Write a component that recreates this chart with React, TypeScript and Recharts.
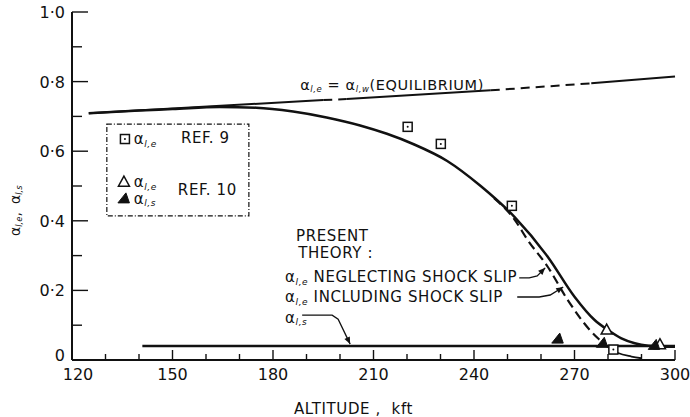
import React from 'react';
import {
  ComposedChart, Line, Scatter, XAxis, YAxis, ReferenceArea, ReferenceDot, Label,
} from 'recharts';

const FONT = '"DejaVu Sans", Verdana, sans-serif';
const INK = '#111';

// ---- axes ----
const xTickValues = [120, 130, 140, 150, 160, 170, 180, 190, 200, 210, 220, 230, 240, 250, 260, 270, 280, 290, 300];
const xMajorTicks = [120, 150, 180, 210, 240, 270, 300];
const yTickValues = [0, 0.1, 0.2, 0.3, 0.4, 0.5, 0.6, 0.7, 0.8, 0.9, 1.0];
const yMajorTicks = [0, 0.2, 0.4, 0.6, 0.8, 1.0];
const yMajorLabels = ['0', '0·2', '0·4', '0·6', '0·8', '1·0'];

// ---- equilibrium line (segments alternate solid / dashed) ----
const eqAlt = [125, 195, 202, 245, 275, 300];
const eqVal = [0.709, 0.747, 0.750, 0.775, 0.795, 0.815];
const eqDashed = [false, true, false, true, false];

// ---- present theory: alpha_l,e including shock slip (solid) ----
const inclAlt = [125, 140, 150, 164, 175, 186, 196, 206, 214, 222, 232, 242, 252, 262, 270, 276, 280, 284, 288, 292, 296, 300];
const inclVal = [0.709, 0.717, 0.721, 0.727, 0.725, 0.714, 0.697, 0.674, 0.650, 0.620, 0.572, 0.500, 0.412, 0.297, 0.182, 0.115, 0.086, 0.062, 0.048, 0.041, 0.039, 0.038];

// ---- present theory: alpha_l,e neglecting shock slip (dashed) ----
const neglAlt = [246, 252, 256, 262, 268, 274.6, 277.6, 279.5];
const neglVal = [0.465, 0.405, 0.345, 0.268, 0.172, 0.086, 0.057, 0.040];
const tailAlt = [279.5, 283, 287, 290];
const tailVal = [0.040, 0.020, 0.010, 0.005];

// ---- present theory: alpha_l,s ----
const sAlt = [141, 300];
const sVal = [0.04, 0.04];

// ---- experimental points ----
const ref9Alt = [220.2, 230.1, 251.3, 281.6];
const ref9Val = [0.670, 0.621, 0.443, 0.030];
const ref10eAlt = [279.6, 295.5];
const ref10eVal = [0.086, 0.044];
const ref10sAlt = [265, 278.3, 293.8];
const ref10sVal = [0.060, 0.048, 0.042];

const pts = (xs: number[], ys: number[]) => xs.map((x, i) => ({ x, y: ys[i] }));

const eqSegments = eqDashed.map((d, i) => ({
  dashed: d,
  data: pts([eqAlt[i], eqAlt[i + 1]], [eqVal[i], eqVal[i + 1]]),
}));

// ---- markers ----
const SquareMark = (p: any) => (
  <g>
    <rect x={p.cx - 4.5} y={p.cy - 4.5} width={9} height={9} fill="#fff" stroke={INK} strokeWidth={1.5} />
    <circle cx={p.cx} cy={p.cy} r={1} fill={INK} />
  </g>
);
const OpenTri = (p: any) => (
  <path d={`M${p.cx},${p.cy - 6} L${p.cx + 5.5},${p.cy + 4} L${p.cx - 5.5},${p.cy + 4} Z`} fill="#fff" stroke={INK} strokeWidth={1.5} />
);
const FilledTri = (p: any) => (
  <path d={`M${p.cx + 2},${p.cy - 6} L${p.cx + 5.5},${p.cy + 4} L${p.cx - 6},${p.cy + 4} Z`} fill={INK} stroke={INK} strokeWidth={1} />
);

// ---- ticks ----
const BottomTick = (p: any) => {
  const v = p.payload.value;
  const major = xMajorTicks.includes(v);
  return (
    <g>
      <line x1={p.x} x2={p.x} y1={p.y} y2={p.y - (major ? 10 : 6)} stroke={INK} strokeWidth={1.4} />
      {major && (
        <text x={p.x + (v === 120 ? 6 : 0)} y={p.y + 20} textAnchor="middle" fontFamily={FONT} fontSize={16} fill={INK}>{v}</text>
      )}
    </g>
  );
};
const TopTick = (p: any) => (
  <line x1={p.x} x2={p.x} y1={p.y} y2={p.y + 6} stroke={INK} strokeWidth={1.3} />
);
const LeftTick = (p: any) => {
  const v = p.payload.value;
  const idx = yMajorTicks.findIndex((t) => Math.abs(t - v) < 1e-9);
  const major = idx >= 0;
  return (
    <g>
      <line x1={p.x} x2={p.x + (major ? 16 : 10)} y1={p.y} y2={p.y} stroke={INK} strokeWidth={1.4} />
      {major && (
        <text x={p.x - 7} y={p.y + (v === 0 ? 1 : 6)} textAnchor="end" fontFamily={FONT} fontSize={16} fill={INK}>{yMajorLabels[idx]}</text>
      )}
    </g>
  );
};
const RightTick = (p: any) => (
  <line x1={p.x} x2={p.x - 10} y1={p.y} y2={p.y} stroke={INK} strokeWidth={1.3} />
);

// ---- text helpers ----
const Alpha = ({ x, y, sub, rest, size = 15, anchor = 'start', spacing = 0.6 }: any) => (
  <text x={x} y={y} fontFamily={FONT} fontSize={size} fill={INK} textAnchor={anchor} dominantBaseline="central" letterSpacing={spacing}>
    <tspan>α</tspan>
    <tspan fontSize={size * 0.6} fontStyle="italic" dy={size * 0.3}>{sub}</tspan>
    {rest !== undefined && <tspan dy={-size * 0.3}>{rest}</tspan>}
  </text>
);

const textDot = (node: (cx: number, cy: number) => React.ReactNode) => (p: any) => <g>{node(p.cx, p.cy)}</g>;

const arrowShape = (rel: number[][]) => (p: any) => {
  const x0 = p.cx, y0 = p.cy;
  const P = rel.map(([dx, dy]) => [x0 + dx, y0 + dy]);
  const d = P.map((q, i) => `${i === 0 ? 'M' : 'L'}${q[0]},${q[1]}`).join(' ');
  const [a, b] = [P[P.length - 2], P[P.length - 1]];
  const ang = Math.atan2(b[1] - a[1], b[0] - a[0]);
  const L = 7, W = 3;
  const bx = b[0] - L * Math.cos(ang), by = b[1] - L * Math.sin(ang);
  const h = `M${b[0]},${b[1]} L${bx - W * Math.sin(ang)},${by + W * Math.cos(ang)} L${bx + W * Math.sin(ang)},${by - W * Math.cos(ang)} Z`;
  return (
    <g>
      <path d={d} fill="none" stroke={INK} strokeWidth={1.3} />
      <path d={h} fill={INK} />
    </g>
  );
};

const plainText = (label: string) => textDot((x, y) => (
  <text x={x} y={y} dominantBaseline="central" fontFamily={FONT} fontSize={15} fill={INK} letterSpacing={0.6}>{label}</text>
));

export default function App() {
  return (
    <div style={{ position: 'absolute', left: 0, top: 0, background: '#fff' }}>
      <ComposedChart width={690} height={417} margin={{ top: 12, right: 15, bottom: 0, left: 0 }}>
        <XAxis
          dataKey="x" type="number" domain={[120, 300]} ticks={xTickValues} interval={0}
          height={57} tickSize={0} tickMargin={0} tick={BottomTick}
          axisLine={{ stroke: INK, strokeWidth: 2 }}
        >
          <Label content={(p: any) => {
            const vb = p.viewBox;
            return (
              <text x={vb.x + vb.width / 2 - 20} y={vb.y + 54} textAnchor="middle" fontFamily={FONT} fontSize={15} fill={INK} letterSpacing={0.6}>
                ALTITUDE ,{'\u00a0\u00a0'}kft
              </text>
            );
          }} />
        </XAxis>
        <XAxis
          xAxisId="top" orientation="top" dataKey="x" type="number" domain={[120, 300]} ticks={xTickValues} interval={0}
          height={0} tickSize={0} tickMargin={0} tick={TopTick} axisLine={{ stroke: INK, strokeWidth: 2 }}
        />
        <YAxis
          type="number" domain={[0, 1]} ticks={yTickValues} interval={0} width={72}
          tickSize={0} tickMargin={0} tick={LeftTick} axisLine={{ stroke: INK, strokeWidth: 2 }}
        >
          <Label content={(p: any) => {
            const vb = p.viewBox;
            const cx = vb.x + 15, cy = vb.y + 198;
            return (
              <g transform={`rotate(-90 ${cx} ${cy})`}>
                <Alpha x={cx - 26} y={cy} sub="l,e" rest=", " size={14} spacing={0} />
                <Alpha x={cx + 6} y={cy} sub="l,s" size={14} spacing={0} />
              </g>
            );
          }} />
        </YAxis>
        <YAxis
          yAxisId="right" orientation="right" type="number" domain={[0, 1]} ticks={yTickValues} interval={0} width={0}
          tickSize={0} tickMargin={0} tick={RightTick} axisLine={{ stroke: INK, strokeWidth: 2 }}
        />

        {eqSegments.map((s, i) => (
          <Line key={'eq' + i} data={s.data} dataKey="y" type="linear" dot={false} stroke={INK}
            strokeWidth={2} strokeDasharray={s.dashed ? '9 6' : undefined} isAnimationActive={false} />
        ))}
        <Line data={pts(inclAlt, inclVal)} dataKey="y" type="monotone" dot={false} stroke={INK} strokeWidth={2.5} isAnimationActive={false} />
        <Line data={pts(neglAlt, neglVal)} dataKey="y" type="monotone" dot={false} stroke={INK} strokeWidth={2.2} strokeDasharray="9 5" isAnimationActive={false} />
        <Line data={pts(tailAlt, tailVal)} dataKey="y" type="monotone" dot={false} stroke={INK} strokeWidth={1.8} isAnimationActive={false} />
        <Line data={pts(sAlt, sVal)} dataKey="y" type="linear" dot={false} stroke={INK} strokeWidth={2.5} isAnimationActive={false} />

        <Scatter data={pts(ref9Alt, ref9Val)} dataKey="y" shape={SquareMark} isAnimationActive={false} />
        <Scatter data={pts(ref10eAlt, ref10eVal)} dataKey="y" shape={OpenTri} isAnimationActive={false} />
        <Scatter data={pts(ref10sAlt, ref10sVal)} dataKey="y" shape={FilledTri} isAnimationActive={false} />

        {/* legend box */}
        <ReferenceArea x1={130.4} x2={172.8} y1={0.414} y2={0.678} fill="none" fillOpacity={0}
          stroke={INK} strokeWidth={1.2} strokeDasharray="5 2 1 2" />
        <ReferenceDot x={135.8} y={0.635} r={0} shape={SquareMark} />
        <ReferenceDot x={138.4} y={0.635} r={0} shape={textDot((x, y) => <Alpha x={x} y={y} sub="l,e" />)} />
        <ReferenceDot x={152.5} y={0.638} r={0} shape={plainText('REF. 9')} />
        <ReferenceDot x={135.5} y={0.511} r={0} shape={OpenTri} />
        <ReferenceDot x={138.4} y={0.511} r={0} shape={textDot((x, y) => <Alpha x={x} y={y} sub="l,e" />)} />
        <ReferenceDot x={135.5} y={0.463} r={0} shape={FilledTri} />
        <ReferenceDot x={138.4} y={0.463} r={0} shape={textDot((x, y) => <Alpha x={x} y={y} sub="l,s" />)} />
        <ReferenceDot x={151.6} y={0.489} r={0} shape={plainText('REF. 10')} />

        {/* equilibrium label */}
        <ReferenceDot x={188.1} y={0.79} r={0} shape={textDot((x, y) => (
          <text x={x} y={y} dominantBaseline="central" fontFamily={FONT} fontSize={14.5} fill={INK} letterSpacing={0.6}>
            <tspan>α</tspan><tspan fontSize={8.5} fontStyle="italic" dy={4}>l,e</tspan>
            <tspan dy={-4}> = α</tspan><tspan fontSize={8.5} fontStyle="italic" dy={4}>l,w</tspan>
            <tspan dy={-4}>(EQUILIBRIUM)</tspan>
          </text>
        ))} />

        {/* present theory labels */}
        <ReferenceDot x={186.9} y={0.356} r={0} shape={plainText('PRESENT')} />
        <ReferenceDot x={187.5} y={0.307} r={0} shape={plainText('THEORY :')} />
        <ReferenceDot x={183.6} y={0.238} r={0} shape={textDot((x, y) => <Alpha x={x} y={y} sub="l,e" rest=" NEGLECTING SHOCK SLIP" />)} />
        <ReferenceDot x={183.6} y={0.181} r={0} shape={textDot((x, y) => <Alpha x={x} y={y} sub="l,e" rest=" INCLUDING SHOCK SLIP" />)} />
        <ReferenceDot x={183.6} y={0.121} r={0} shape={textDot((x, y) => <Alpha x={x} y={y} sub="l,s" />)} />

        {/* arrows */}
        <ReferenceDot x={253.5} y={0.236} r={0} shape={arrowShape([[0, 0], [10, 0], [18, -2], [26, -10]])} />
        <ReferenceDot x={252.9} y={0.181} r={0} shape={arrowShape([[0, 0], [22, 0], [33, -2], [46, -10]])} />
        <ReferenceDot x={188.7} y={0.129} r={0} shape={arrowShape([[0, 0], [30, 0], [36, 4], [48, 29]])} />
      </ComposedChart>
    </div>
  );
}
